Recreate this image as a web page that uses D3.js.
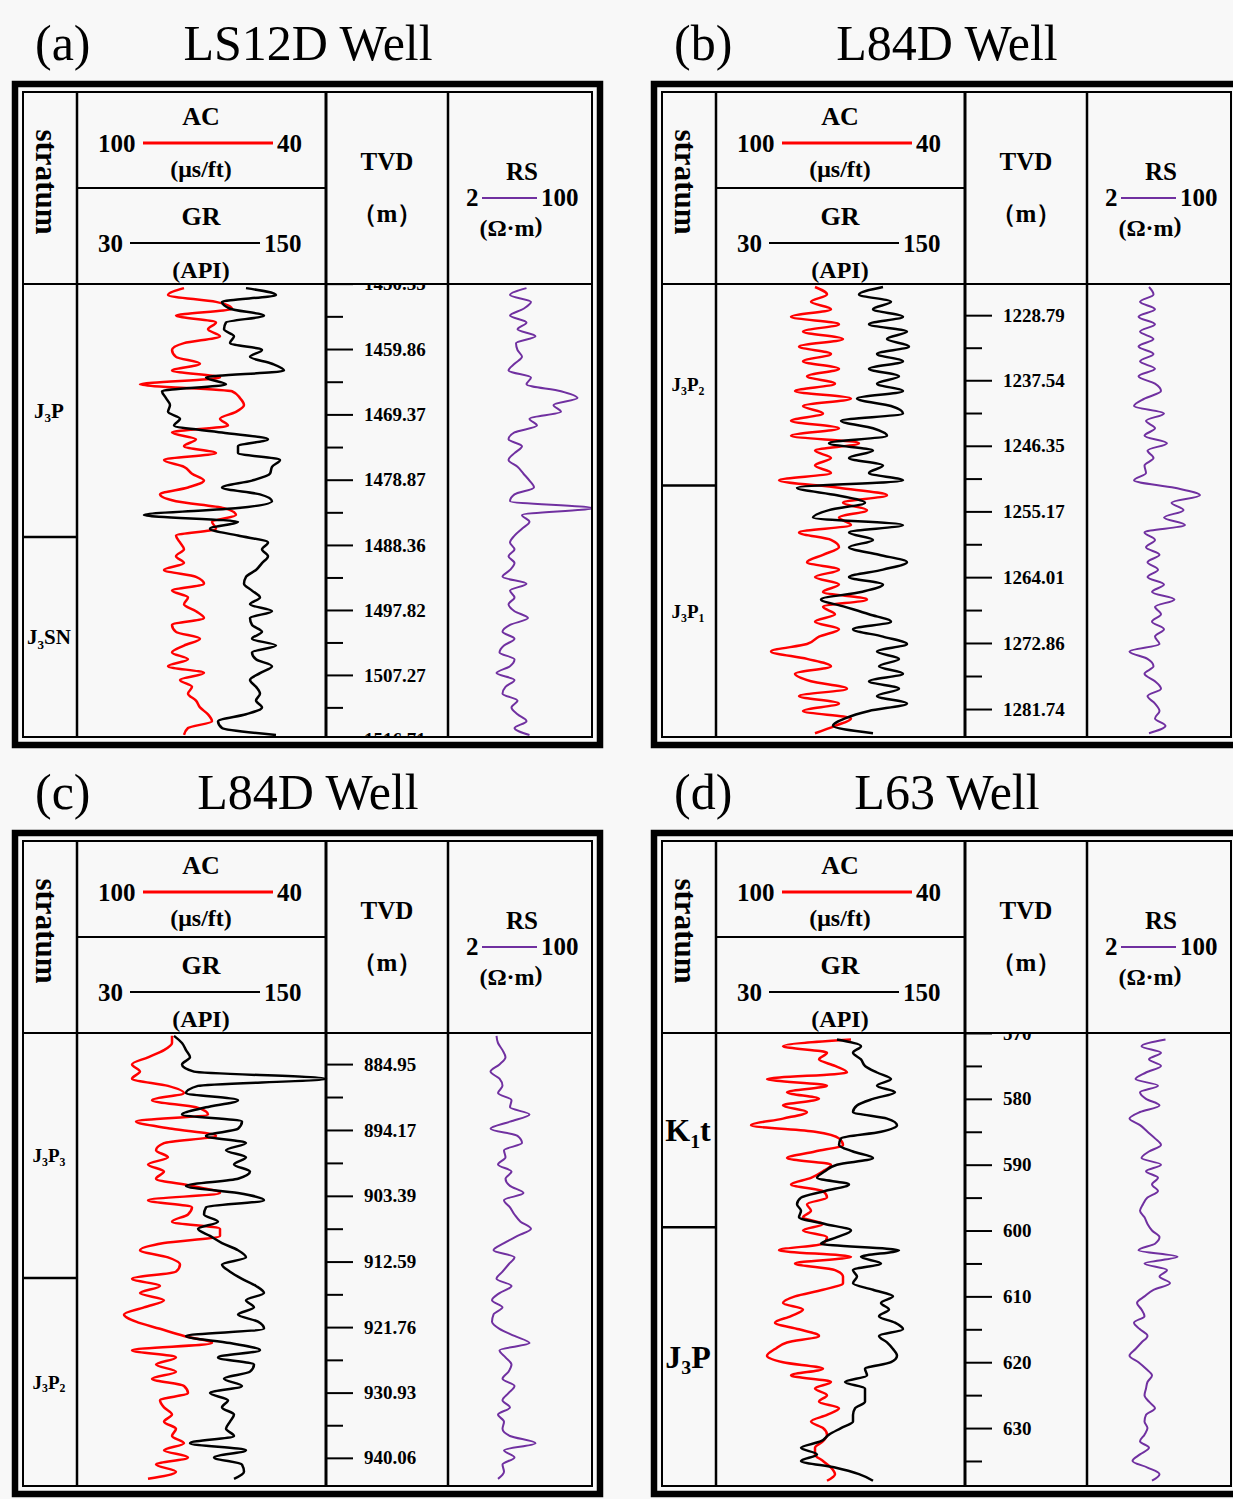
<!DOCTYPE html>
<html>
<head>
<meta charset="utf-8">
<script src="https://cdn.jsdelivr.net/npm/d3@7"></script>
<style>
  body { margin: 0; background: #f8f8f8; }
  svg text { font-family: "Liberation Serif", "Times New Roman", serif; fill: #000; }
</style>
</head>
<body>
<div id="container"></div>
<script>
// ---- data ----
const panelLetters = ["(a)", "(b)", "(c)", "(d)"];
const wellNames = ["LS12D Well", "L84D Well", "L84D Well", "L63 Well"];

// header scales of the tracks
const acScale = [100, 40];   // µs/ft
const grScale = [30, 150];   // API
const rsScale = [2, 100];    // ohm.m

// depth window of each panel (m) and depth of the first sample (1 m sampling)
const depthTop = [1450.4, 1224.6, 880.6, 570.0];
const depthBottom = [1516.3, 1285.5, 944.0, 638.8];
const firstSample = [1451, 1225, 881, 571];

// TVD tick labels
const tvdA = ["1450.35", "1459.86", "1469.37", "1478.87", "1488.36", "1497.82", "1507.27", "1516.71"];
const tvdB = ["1228.79", "1237.54", "1246.35", "1255.17", "1264.01", "1272.86", "1281.74"];
const tvdC = ["884.95", "894.17", "903.39", "912.59", "921.76", "930.93", "940.06"];
const tvdD = ["570", "580", "590", "600", "610", "620", "630", "640"];

// strata ("_" = next char is a subscript) and their boundaries (m)
const strataA = ["J_3P", "J_3SN"];
const boundsA = [1487.2];
const strataB = ["J_3P_2", "J_3P_1"];
const boundsB = [1251.7];
const strataC = ["J_3P_3", "J_3P_2"];
const boundsC = [914.9];
const strataD = ["K_1t", "J_3P"];
const boundsD = [599.5];

// log curves, one value per metre
const acA = [74,78,66,62,76,66,68,65,74,77, 76,70,77,65,85,62,60,59,61,65, 63,77,71,74,66,79,74,72,69,73,
             80,76,64,61,67,66,76,75,74,76, 74,79,71,69,77,73,74,71,69,77, 76,70,74,77,73,78,69,75,72,73, 71,70,68,67,73,74];
const grA = [113,128,101,105,122,103,102,107,105,121, 115,126,132,93,103,71,73,75,74,80, 77,101,124,109,109,130,126,125,116,101,
             120,126,109,62,109,95,109,124,121,124, 121,118,113,112,116,120,115,126,115,116, 121,116,128,116,118,126,120,115,118,120,
             118,121,113,99,101,128];
const rsA = [53,42,56,51,42,53,47,59,46,47, 50,45,41,56,53,76,87,71,76,55, 60,45,41,50,45,41,47,51,55,58,
             45,42,97,50,55,50,45,42,45,41, 45,42,37,53,42,45,41,45,54,42, 37,45,38,35,45,42,33,45,39,37, 47,43,47,53,45,55];

const acB = [76,73,77,72,82,70,79,69,80,72, 79,70,78,71,81,67,79,74,82,70, 82,65,76,72,76,72,85,70,58,69,
             63,70,67,80,72,70,74,78,70,76, 70,74,63,74,71,76,70,75,78,87, 78,72,81,77,68,80,70,79,67,71, 76];
const grB = [112,100,116,107,122,105,124,114,125,109, 122,105,120,109,122,99,116,122,91,107, 114,85,107,95,112,105,122,69,89,103,
             85,77,122,95,107,95,110,124,112,95, 112,101,81,93,105,116,97,112,124,109, 120,110,122,105,120,109,124,105,93,87, 107];
const rsB = [42,45,36,46,35,46,36,45,35,45, 36,46,35,46,50,39,32,52,40,46, 39,54,41,45,39,40,32,59,76,57,
             65,52,66,39,46,40,49,41,48,41, 52,44,59,46,50,44,52,46,49,29, 41,45,39,46,50,41,46,49,46,53, 42];

const acC = [77,77,79,83,87,85,87,78,74,82, 71,68,86,77,66,79,81,78,83,79, 81,72,65,83,72,73,77,65,65,79,
             85,78,75,76,87,80,85,79,84,89, 86,80,74,67,87,76,81,76,82,74, 73,80,79,77,79,76,77,74,79,73, 81,76,83];
const grC = [77,81,83,85,81,87,153,89,83,109, 93,81,111,109,93,113,103,113,107,115, 109,83,109,122,93,92,99,89,95,101,
             109,113,101,105,111,118,122,113,117,109, 119,122,83,105,120,99,117,115,102,111, 95,104,101,107,105,103,107,85,113,97,
             111,112,107];
const rsC = [33,34,37,39,35,29,35,37,34,43, 42,55,42,29,47,50,38,39,34,43, 39,42,51,38,42,45,49,56,47,38,
             31,45,41,37,33,43,35,30,37,31, 30,35,45,55,35,39,43,41,37,45, 41,37,42,34,38,37,42,59,38,45, 37,38,34];

const acD = [67,84,73,75,71,68,88,73,83,75, 84,78,84,92,76,70,69,76,83,72, 74,77,82,74,73,78,77,79,74,79,
             73,74,85,67,81,71,69,69,74,81, 84,79,82,86,80,75,83,86,88,84, 74,82,72,76,73,75,70,73,77,74,
             73,74,76,76,74,72,71,73];
const grD = [89,101,97,101,103,109,116,109,118,107, 99,97,114,119,111,91,90,97,107,89, 83,79,95,83,71,69,71,70,83,96,
             89,81,120,101,111,97,99,97,107,117, 111,115,110,118,122,110,114,117,119,116, 103,104,93,103,103,103,98,97,97,91,
             85,81,71,79,71,88,100,107];
const rsD = [53,37,50,42,50,40,33,48,36,40, 49,36,29,36,41,46,50,42,37,50, 40,48,44,48,41,38,36,39,41,44,
             49,46,35,61,39,54,49,56,45,39, 34,37,39,32,36,41,37,33,29,35, 40,44,41,40,39,42,46,40,39,41,
             39,36,42,36,31,41,49,44];

// ---- layout ----
const W = 1233, H = 1499;
const boxW = 569, boxH = 645, headH = 192, splitH = 96;
const colStrat = 54, colTvd = 303, colRs = 425;
const origins = [[23, 92], [662, 92], [23, 841], [662, 841]];
const strataFont = [21, 19, 19, 32];

const panels = [
  {tvd: tvdA, strata: strataA, bounds: boundsA, ac: acA, gr: grA, rs: rsA},
  {tvd: tvdB, strata: strataB, bounds: boundsB, ac: acB, gr: grB, rs: rsB},
  {tvd: tvdC, strata: strataC, bounds: boundsC, ac: acC, gr: grC, rs: rsC},
  {tvd: tvdD, strata: strataD, bounds: boundsD, ac: acD, gr: grD, rs: rsD}
];

const svg = d3.select("#container").append("svg")
    .attr("width", W)
    .attr("height", H);

svg.append("rect").attr("width", W).attr("height", H).attr("fill", "#f8f8f8");

// writes "J_3P_2" as J, small 3, P, small 2
function subText(sel, label, size) {
    const shift = size * 0.2;
    let down = false;
    label.split(/(_.)/).filter(s => s).forEach(part => {
        if (part[0] === "_") {
            sel.append("tspan").attr("dy", shift).attr("font-size", size * 0.62).text(part[1]);
            down = true;
        } else {
            sel.append("tspan").attr("dy", down ? -shift : null).text(part);
            down = false;
        }
    });
}

panels.forEach((p, i) => {
    const [L, T] = origins[i];
    const g = svg.append("g");

    const y = d3.scaleLinear().domain([depthTop[i], depthBottom[i]]).range([T + headH, T + boxH]);
    const xAC = d3.scaleLinear().domain(acScale).range([L + 57, L + 297]);
    const xGR = d3.scaleLinear().domain(grScale).range([L + 57, L + 297]);
    const xRS = d3.scaleLinear().domain(rsScale).range([L + 427, L + 574]);

    const line = (x1, y1, x2, y2, w, c = "#000") => g.append("line")
        .attr("x1", x1).attr("y1", y1).attr("x2", x2).attr("y2", y2)
        .attr("stroke", c).attr("stroke-width", w);

    // titles
    g.append("text").attr("x", L + 12).attr("y", T - 32).attr("font-size", 50).text(panelLetters[i]);
    g.append("text").attr("x", L + 285).attr("y", T - 32).attr("font-size", 50)
        .attr("text-anchor", "middle").text(wellNames[i]);

    // tracks
    g.append("clipPath").attr("id", "clip" + i).append("rect")
        .attr("x", L).attr("y", T + headH).attr("width", boxW).attr("height", boxH - headH);
    const track = g.append("g").attr("clip-path", `url(#clip${i})`);

    const samples = p.ac.map((v, k) => ({depth: firstSample[i] + k, ac: v, gr: p.gr[k], rs: p.rs[k]}));
    const lineOf = (scale, key) => d3.line()
        .x(d => scale(d[key]))
        .y(d => y(d.depth))
        .curve(d3.curveMonotoneY);

    track.append("path").datum(samples).attr("d", lineOf(xAC, "ac"))
        .attr("fill", "none").attr("stroke", "#ff0000").attr("stroke-width", 2.5);
    track.append("path").datum(samples).attr("d", lineOf(xGR, "gr"))
        .attr("fill", "none").attr("stroke", "#000").attr("stroke-width", 2.5);
    track.append("path").datum(samples).attr("d", lineOf(xRS, "rs"))
        .attr("fill", "none").attr("stroke", "#7030a0").attr("stroke-width", 2);

    // TVD axis (labels whose centre falls below the track are left blank)
    const tickVals = p.tvd.map(Number);
    const minorAxis = d3.axisRight(y).tickValues(d3.pairs(tickVals, (a, b) => (a + b) / 2))
        .tickSize(17).tickFormat("");
    const majorAxis = d3.axisRight(y).tickValues(tickVals)
        .tickSize(27).tickPadding(11)
        .tickFormat((d, k) => y(d) < T + boxH + 6 ? p.tvd[k] : "");

    const minG = track.append("g").attr("transform", `translate(${L + colTvd},0)`).call(minorAxis);
    minG.select(".domain").remove();
    minG.selectAll("line").attr("stroke-width", 2);

    const majG = track.append("g").attr("transform", `translate(${L + colTvd},0)`).call(majorAxis)
        .attr("font-size", 19).attr("font-weight", "bold");
    majG.select(".domain").remove();
    majG.selectAll("line").attr("stroke-width", 2);
    majG.selectAll("text").filter(function () { return this.textContent === ""; }).remove();

    // frame and grid
    g.append("rect").attr("x", L - 8).attr("y", T - 8).attr("width", boxW + 16).attr("height", boxH + 16)
        .attr("fill", "none").attr("stroke", "#000").attr("stroke-width", 6.5);
    g.append("rect").attr("x", L).attr("y", T).attr("width", boxW).attr("height", boxH)
        .attr("fill", "none").attr("stroke", "#000").attr("stroke-width", 2);
    line(L + colStrat, T, L + colStrat, T + boxH, 2.5);
    line(L + colTvd, T, L + colTvd, T + boxH, 3);
    line(L + colRs, T, L + colRs, T + boxH, 2.5);
    line(L, T + headH, L + boxW, T + headH, 2);
    line(L + colStrat, T + splitH, L + colTvd, T + splitH, 2);
    p.bounds.forEach(b => line(L, y(b), L + colStrat, y(b), 2.5));

    // strata
    const edges = [depthTop[i], ...p.bounds, depthBottom[i]].map(y);
    p.strata.forEach((name, k) => {
        const t = g.append("text")
            .attr("x", L + 26).attr("y", (edges[k] + edges[k + 1]) / 2)
            .attr("dy", "0.35em").attr("text-anchor", "middle")
            .attr("font-weight", "bold").attr("font-size", strataFont[i]);
        subText(t, name, strataFont[i]);
    });

    // header
    const hdr = (x, yy, txt, size, anchor = "middle") => g.append("text")
        .attr("x", x).attr("y", yy).attr("font-size", size).attr("font-weight", "bold")
        .attr("text-anchor", anchor).text(txt);

    g.append("text").attr("transform", `translate(${L + 24},${T + 90}) rotate(90)`)
        .attr("text-anchor", "middle").attr("dy", "0.35em")
        .attr("font-size", 31).attr("font-weight", "bold").text("stratum");

    hdr(L + 178, T + 33, "AC", 26);
    hdr(L + 75, T + 60, acScale[0], 25, "start");
    line(L + 120, T + 51, L + 250, T + 51, 3, "#ff0000");
    hdr(L + 254, T + 60, acScale[1], 25, "start");
    hdr(L + 178, T + 85, "(μs/ft)", 24);

    hdr(L + 178, T + 133, "GR", 26);
    hdr(L + 75, T + 160, grScale[0], 25, "start");
    line(L + 107, T + 151, L + 237, T + 151, 2);
    hdr(L + 241, T + 160, grScale[1], 25, "start");
    hdr(L + 178, T + 186, "(API)", 24);

    hdr(L + 364, T + 78, "TVD", 25);
    hdr(L + 364, T + 130, "（m）", 25);

    hdr(L + 499, T + 88, "RS", 25);
    hdr(L + 443, T + 114, rsScale[0], 25, "start");
    line(L + 459, T + 106, L + 514, T + 106, 2, "#7030a0");
    hdr(L + 518, T + 114, rsScale[1], 25, "start");
    const unit = hdr(L + 488, T + 144, "(Ω·m", 24);
    unit.append("tspan").attr("dy", -3).text(")");
});
</script>
</body>
</html>
